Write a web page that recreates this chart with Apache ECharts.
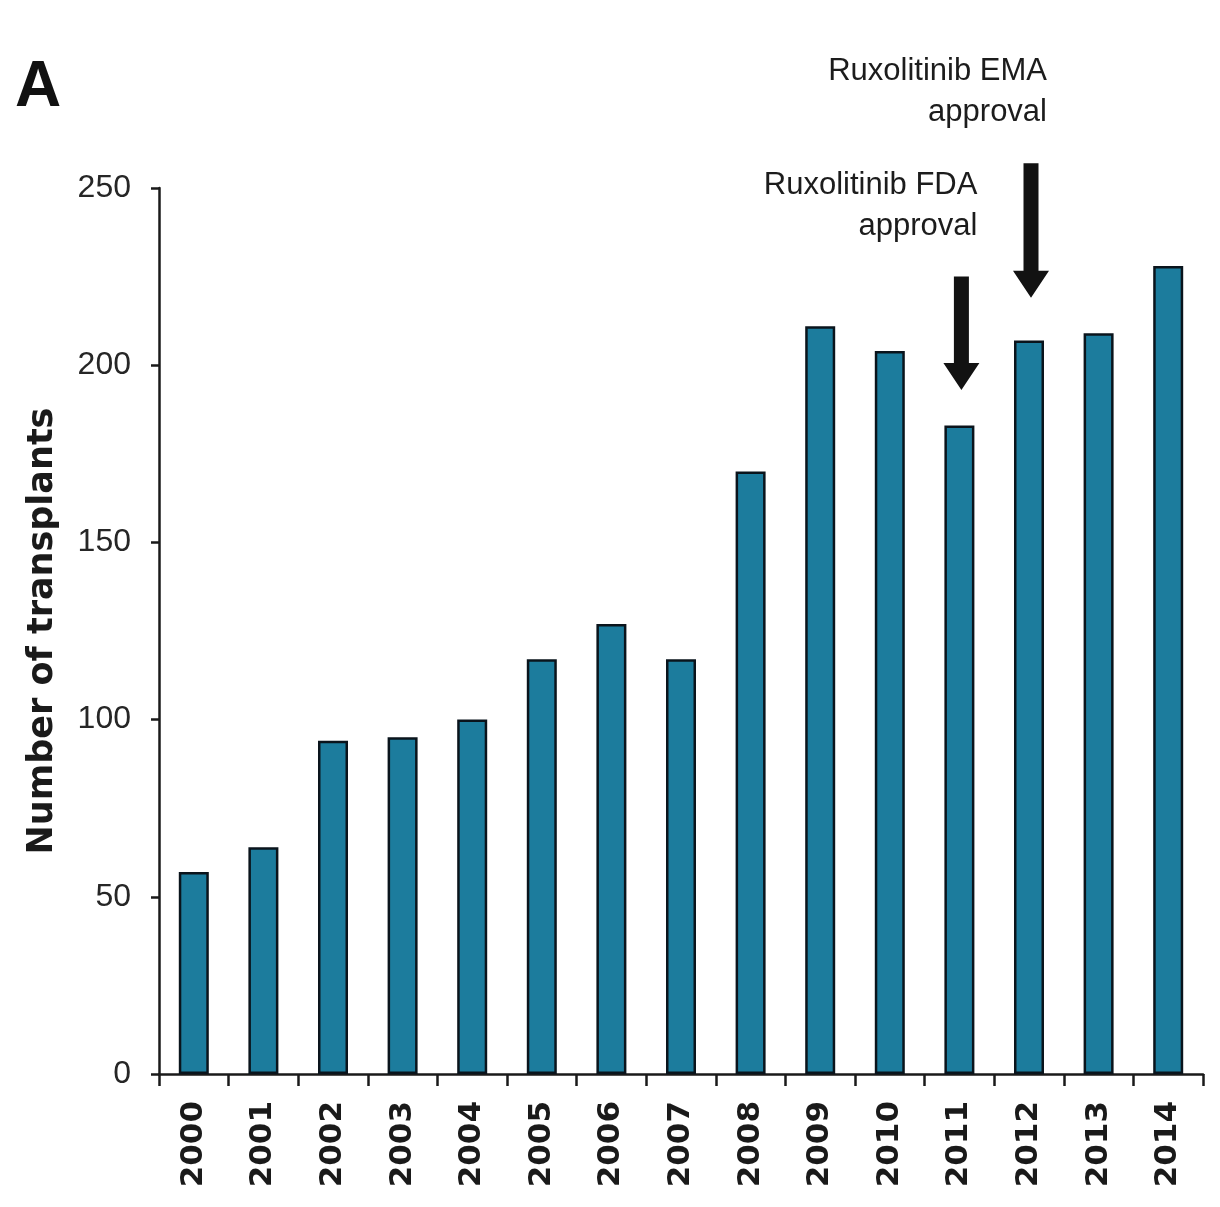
<!DOCTYPE html>
<html>
<head>
<meta charset="utf-8">
<script src="https://cdn.jsdelivr.net/npm/echarts@6/dist/echarts.min.js"></script>
<style>
  html, body { margin: 0; padding: 0; background: #ffffff; }
  #chart { width: 1220px; height: 1207px; }
</style>
</head>
<body>
<div id="chart"></div>
<script>
// Allogeneic transplants per year
const years = ['2000', '2001', '2002', '2003', '2004', '2005', '2006', '2007',
               '2008', '2009', '2010', '2011', '2012', '2013', '2014'];
const transplants = [57, 64, 94, 95, 100, 117, 127, 117, 170, 211, 204, 183, 207, 209, 228];

// y-axis range and step
const yTicks = { min: 0, max: 250, step: 50 };

// Approval markers: arrow from `from` down to `to` (axis units) above the given year
const approvals = [
  { year: '2011', lines: ['Ruxolitinib FDA', 'approval'], from: 225, to: 193 },
  { year: '2012', lines: ['Ruxolitinib EMA', 'approval'], from: 257, to: 219 }
];

const ink = '#1a1a1a';
const chart = echarts.init(document.getElementById('chart'));

chart.setOption({
  backgroundColor: '#ffffff',
  animation: false,
  grid: { left: 159, right: 17, top: 188, bottom: 133 },
  xAxis: {
    type: 'category',
    data: years,
    boundaryGap: true,
    axisLine: { lineStyle: { color: ink, width: 2.5 } },
    axisTick: { show: true, length: 12, lineStyle: { color: ink, width: 2.5 } },
    axisLabel: {
      rotate: 90,
      margin: 27,
      color: ink,
      fontFamily: 'DejaVu Sans',
      fontWeight: 'bold',
      fontSize: 31
    }
  },
  yAxis: {
    type: 'value',
    min: yTicks.min,
    max: yTicks.max,
    interval: yTicks.step,
    name: 'Number of transplants',
    nameLocation: 'middle',
    nameRotate: 90,
    nameGap: 99,
    nameTextStyle: {
      color: ink,
      fontFamily: 'DejaVu Sans',
      fontWeight: 'bold',
      fontSize: 35
    },
    axisLine: { show: true, lineStyle: { color: ink, width: 2.5 } },
    axisTick: { show: true, length: 8, lineStyle: { color: ink, width: 2.5 } },
    splitLine: { show: false },
    axisLabel: {
      margin: 28,
      color: '#262626',
      fontFamily: 'Liberation Sans',
      fontSize: 32
    }
  },
  series: [{
    type: 'bar',
    data: transplants,
    barWidth: 30,
    itemStyle: { color: '#1c7c9d', borderColor: '#0a141c', borderWidth: 2.5 }
  }]
});

// Arrows and their captions, placed from axis coordinates
function buildAnnotations() {
  const shaftW = 15, headW = 36, headL = 27;
  const items = [{
    type: 'text',
    left: 15,
    top: 56,
    style: {
      text: 'A',
      fill: '#111',
      font: 'bold 64px "Liberation Sans", Arial, sans-serif'
    }
  }];
  approvals.forEach(a => {
    const top = chart.convertToPixel({ gridIndex: 0 }, [a.year, a.from]);
    const tip = chart.convertToPixel({ gridIndex: 0 }, [a.year, a.to]);
    const x = top[0] + 2;
    const y0 = top[1], y1 = tip[1];
    items.push({
      type: 'polygon',
      shape: {
        points: [
          [x - shaftW / 2, y0], [x + shaftW / 2, y0],
          [x + shaftW / 2, y1 - headL], [x + headW / 2, y1 - headL],
          [x, y1],
          [x - headW / 2, y1 - headL], [x - shaftW / 2, y1 - headL]
        ]
      },
      style: { fill: '#121212' }
    });
    items.push({
      type: 'text',
      x: x + 16,
      y: y0 - 30,
      style: {
        text: a.lines.join('\n'),
        fill: '#1c1c1c',
        font: '31px "Liberation Sans", Arial, sans-serif',
        lineHeight: 41,
        align: 'right',
        verticalAlign: 'bottom'
      }
    });
  });
  return items;
}

chart.setOption({ graphic: buildAnnotations() });
</script>
</body>
</html>
